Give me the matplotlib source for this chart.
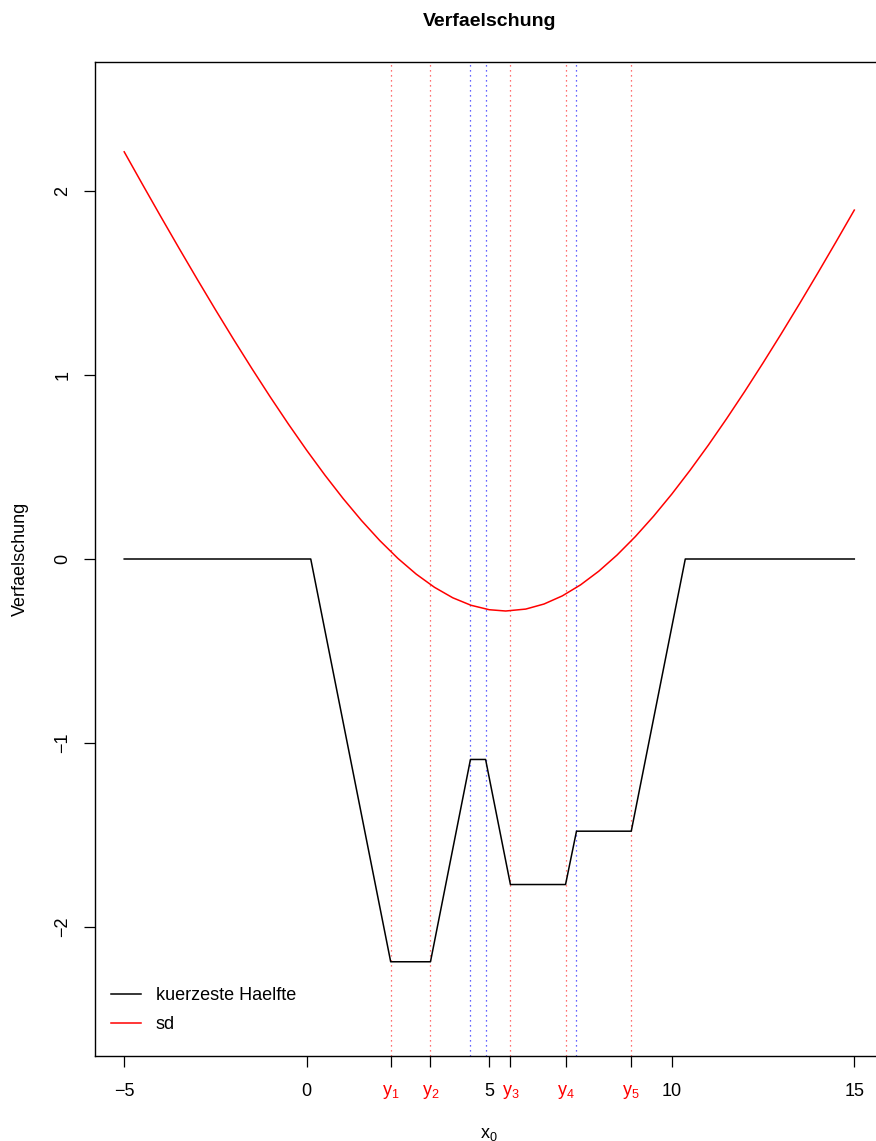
import matplotlib.pyplot as plt

plt.rcParams.update(
    {
        "font.family": ["Liberation Sans", "DejaVu Sans"],
        "font.size": 13,
        "mathtext.fontset": "custom",
        "mathtext.rm": "Liberation Sans",
        "mathtext.it": "Liberation Sans",
    }
)

# %% Data

# observations y1..y5
y_obs = [2.30, 3.39, 5.58, 7.09, 8.89]
y_labels = ["$\\mathrm{y}_1$", "$\\mathrm{y}_2$", "$\\mathrm{y}_3$", "$\\mathrm{y}_4$", "$\\mathrm{y}_5$"]

# extra kinks of the shorth curve (blue)
kinks = [4.485, 4.90, 7.39]

# shortest half: piecewise linear
shorth_x = [-5, 0.11, 2.30, 3.39, 4.485, 4.90, 5.58, 7.09, 7.39, 8.89, 10.37, 15]
shorth_y = [0, 0, -2.19, -2.19, -1.09, -1.09, -1.77, -1.77, -1.48, -1.48, 0, 0]

# sd curve
sd_x = [-5, -4.5, -4, -3.5, -3, -2.5, -2, -1.5, -1, -0.5, 0, 0.5, 1, 1.5, 2, 2.5,
        3, 3.5, 4, 4.5, 5, 5.45, 6, 6.5, 7, 7.5, 8, 8.5, 9, 9.5, 10, 10.5, 11,
        11.5, 12, 12.5, 13, 13.5, 14, 14.5, 15]
sd_y = [2.214, 2.0372, 1.8625, 1.6905, 1.5213, 1.3553, 1.1930, 1.0348, 0.8813,
        0.7331, 0.5909, 0.4556, 0.3280, 0.2093, 0.1005, 0.0028, -0.0824, -0.1540,
        -0.2108, -0.2516, -0.2758, -0.2828, -0.2723, -0.2448, -0.2007, -0.1408,
        -0.0664, 0.0214, 0.1214, 0.2323, 0.3528, 0.4821, 0.6187, 0.7623, 0.9115,
        1.0661, 1.2251, 1.3882, 1.5548, 1.7247, 1.8972]

x_ticks = [-5, 0, 5, 10, 15]
y_ticks = [-2, -1, 0, 1, 2]

# %% Plot

W, H = 876, 1141
fig = plt.figure(figsize=(W / 100, H / 100), dpi=100)
left, right, top, bottom = 95, 883.5, 61.7, 1056.3
ax = fig.add_axes([left / W, (H - bottom) / H, (right - left) / W, (bottom - top) / H])

for x in y_obs:
    ax.axvline(x, color="#ff4040", lw=0.9, ls=(0, (1, 3)), zorder=1)
for x in kinks:
    ax.axvline(x, color="#3030ff", lw=0.9, ls=(0, (1, 3)), zorder=1)

ax.plot(shorth_x, shorth_y, color="black", lw=1.1, label="kuerzeste Haelfte", zorder=3)
ax.plot(sd_x, sd_y, color="red", lw=1.1, label="sd", zorder=3)

ax.set_xlim(-5.8, 15.8)
ax.set_ylim(-2.704, 2.704)

ax.set_xticks(x_ticks + y_obs)
ax.set_xticklabels([str(t) if t >= 0 else "\u2212" + str(-t) for t in x_ticks] + y_labels)
for lab in ax.get_xticklabels()[len(x_ticks):]:
    lab.set_color("red")
ax.set_yticks(y_ticks)
ax.set_yticklabels([str(t) if t >= 0 else "\u2212" + str(-t) for t in y_ticks],
                   rotation=90, va="center")
ax.tick_params(length=8, width=0.9, pad=11)
ax.tick_params(axis="y", pad=9)

for s in ax.spines.values():
    s.set_linewidth(1.0)

ax.set_title("Verfaelschung", fontweight="bold", fontsize=14, pad=26)
ax.set_xlabel("$\\mathrm{x}_0$", labelpad=18)
ax.set_ylabel("Verfaelschung", labelpad=18)

ax.legend(loc="lower left", frameon=False, handlelength=1.67, handletextpad=0.8,
          labelspacing=0.67, bbox_to_anchor=(0.0, 0.007))

fig.savefig("out.png", dpi=100)
